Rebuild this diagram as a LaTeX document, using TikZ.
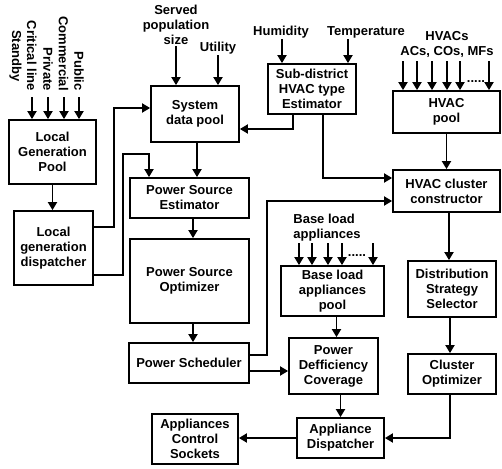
\documentclass[tikz,border=0pt]{standalone}
\usepackage{fontspec}
\setmainfont{Liberation Sans}
\usetikzlibrary{arrows.meta,positioning}
\tikzset{
    block/.style={
                draw=black,
                line width=1.8pt,
                text centered,
                align=center,
                inner sep=0pt,
                font=\fontsize{13pt}{15pt}\selectfont\bfseries
            },
        inputtext/.style={
                align=center,
                inner sep=1pt,
                font=\fontsize{13pt}{15pt}\selectfont\bfseries
            },
        dotsep/.style={
                inner sep=0pt,
                anchor=base,
                font=\fontsize{13pt}{15pt}\selectfont\bfseries
            },
        arr/.style={
                line width=1.8pt,
                -{Triangle[width=9pt,length=8pt]}
            },
}

\begin{document}
\begin{tikzpicture}[x=1pt,y=-1pt]
\useasboundingbox (0,0) rectangle (502,468);
% Blocks
\node[block, minimum width=87pt, minimum height=64pt] (lgp) at (52.5,152) {Local\\Generation\\Pool};
\node[block, minimum width=79pt, minimum height=74pt] (lgd) at (53.5,248) {Local\\generation\\dispatcher};
\node[block, minimum width=88pt, minimum height=56pt] (sdp) at (195,114) {System\\data pool};
\node[block, minimum width=88pt, minimum height=50pt] (she) at (312,89) {Sub-district\\HVAC type\\Estimator};
\node[block, minimum width=107pt, minimum height=42pt] (hp) at (446.5,112) {HVAC\\pool};
\node[block, minimum width=107pt, minimum height=42pt] (hcc) at (446.5,191) {HVAC cluster\\constructor};
\node[block, minimum width=119pt, minimum height=40pt] (pse) at (189.5,198) {Power Source\\Estimator};
\node[block, minimum width=119pt, minimum height=84pt] (pso) at (189.5,281) {Power Source\\Optimizer};
\node[block, minimum width=120pt, minimum height=40pt] (ps) at (189,363) {Power Scheduler};
\node[block, minimum width=103pt, minimum height=50pt] (blp) at (332.5,291) {Base load\\appliances\\pool};
\node[block, minimum width=88pt, minimum height=56pt] (dss) at (452,289) {Distribution\\Strategy\\Selector};
\node[block, minimum width=88pt, minimum height=40pt] (co) at (452,374) {Cluster\\Optimizer};
\node[block, minimum width=89pt, minimum height=56pt] (pdc) at (333.5,366) {Power\\Defficiency\\Coverage};
\node[block, minimum width=87pt, minimum height=40pt] (ad) at (340.5,438) {Appliance\\Dispatcher};
\node[block, minimum width=86pt, minimum height=50pt] (acs) at (195,439) {Appliances\\Control\\Sockets};

% Inputs
\node[inputtext, rotate=-90, anchor=east] (critical) at (23,92) {Critical line\\Standby};
\node[inputtext, rotate=-90, anchor=east] (private) at (48,92) {Private};
\node[inputtext, rotate=-90, anchor=east] (commercial) at (63.5,92) {Commercial};
\node[inputtext, rotate=-90, anchor=east] (public) at (79,92) {Public};
\node[inputtext] (served) at (176,25) {Served\\population\\size};
\node[inputtext] (utility) at (218,48) {Utility};
\node[inputtext] (humidity) at (281,32) {Humidity};
\node[inputtext] (temperature) at (366,32) {Temperature};
\node[inputtext] (hvacs) at (447,44) {HVACs\\ACs, COs, MFs};
\node[dotsep] (hvacdots) at (476,82) {.....};
\node[inputtext, align=left] (baseload) at (327,228) {Base load\\appliances};
\node[dotsep] (basedots) at (357,256) {.....};

% Connectors
\foreach \dx in {-20.5,-4.5,11.5,26.5}
    \draw[arr] ([xshift=\dx pt, yshift=22pt]lgp.north) -- ([xshift=\dx pt]lgp.north);
\foreach \dx in {-43.5,-29.5,-14.5,0.5,13.5,42.5}
    \draw[arr] ([xshift=\dx pt, yshift=29pt]hp.north) -- ([xshift=\dx pt]hp.north);
\foreach \dx in {-33.5,-20.5,-4.5,9.5,40.5}
    \draw[arr] ([xshift=\dx pt, yshift=22pt]blp.north) -- ([xshift=\dx pt]blp.north);
\draw[arr] (lgp.south) -- (lgp.south |- lgd.north);
\draw[arr] ([yshift=21pt]lgd.east) -- ++(20,0) |- ([yshift=6pt]sdp.west);
\draw[arr] ([yshift=-27pt]lgd.east) -- ++(29,0) |- ([xshift=-40.5pt,yshift=23pt]pse.north) -- ([xshift=-40.5pt]pse.north);
\draw[arr] (served) -- (served |- sdp.north);
\draw[arr] (utility) -- (utility |- sdp.north);
\draw[arr] ([xshift=2pt]sdp.south) -- ([xshift=2pt]sdp.south |- pse.north);
\draw[arr] ([xshift=-30pt]she.north |- humidity.south) -- ([xshift=-30pt]she.north);
\draw[arr] ([xshift=36pt]she.north |- temperature.south) -- ([xshift=36pt]she.north);
\draw[arr] ([xshift=-19pt]she.south) |- ([yshift=-15pt]sdp.east);
\draw[arr] ([xshift=11pt]she.south) |- ([yshift=13pt]hcc.west);
\draw[arr] (hp.south) -- (hcc.north);
\draw[arr] ([xshift=2.5pt]hcc.south) -- ([xshift=2.5pt]hcc.south |- dss.north);
\draw[arr] ([xshift=-2pt]dss.south) -- ([xshift=-2pt]dss.south |- co.north);
\draw[arr] ([xshift=-2pt]co.south) |- (ad.east);
\draw[arr] ([xshift=4pt]blp.south) -- ([xshift=4pt]blp.south |- pdc.north);
\draw[arr] (ad.north |- pdc.south) -- (ad.north);
\draw[arr] (ad.west) -- (ad.west -| acs.east);
\draw[arr] ([xshift=3.5pt]pse.south) -- ([xshift=3.5pt]pse.south |- pso.north);
\draw[arr] ([xshift=3.5pt]pso.south) -- ([xshift=3.5pt]pso.south |- ps.north);
\draw[arr] ([yshift=-8pt]ps.east) -- ([yshift=-8pt]ps.east -| pdc.west);
\draw[arr] ([yshift=8pt]ps.east) -- ++(17,0) |- ([yshift=-10pt]hcc.west);
\end{tikzpicture}
\end{document}
